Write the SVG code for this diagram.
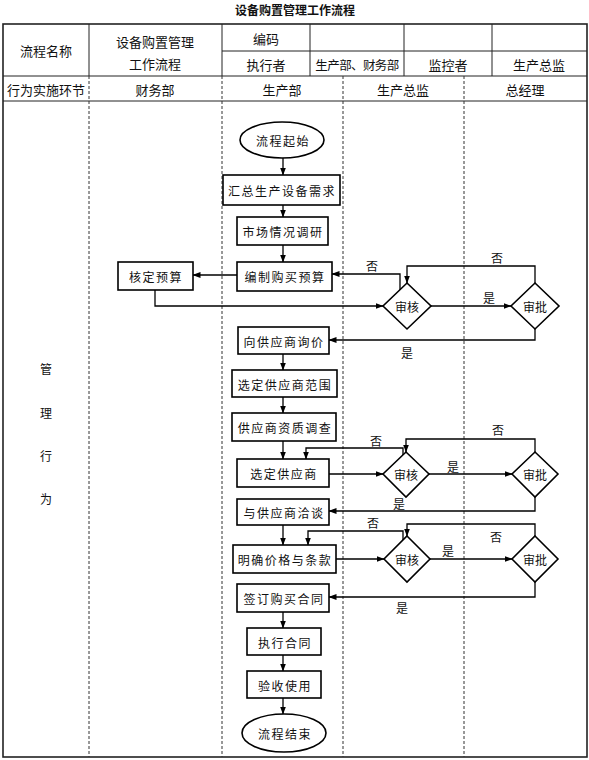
<svg xmlns="http://www.w3.org/2000/svg" width="589" height="760" viewBox="0 0 589 760">
<defs>
<marker id="ah" markerWidth="8" markerHeight="6" refX="7.5" refY="3" orient="auto" markerUnits="userSpaceOnUse">
<path d="M0,0 L8,3 L0,6 Z" fill="#000"/>
</marker>
<style>
text{font-family:"Noto Sans CJK SC","Noto Sans",sans-serif;fill:#111;text-anchor:middle;dominant-baseline:central}
.h{font-size:13px}
.n{font-size:12px;letter-spacing:1.5px}
.l{font-size:12px}
.box{fill:#fff;stroke:#000;stroke-width:1.6}
.c{fill:none;stroke:#000;stroke-width:1.3;marker-end:url(#ah)}
.solid{stroke:#222;stroke-width:1;fill:none}
.dash{stroke:#333;stroke-width:1;stroke-dasharray:3,2;fill:none}
</style>
</defs>
<rect width="589" height="760" fill="#fff"/>
<text x="295" y="9" style="font-size:12px;font-weight:bold">设备购置管理工作流程</text>
<g id="table">
<rect x="3" y="24" width="584" height="733" fill="none" stroke="#222" stroke-width="1.6"/>
<line class="solid" x1="3" y1="76" x2="587" y2="76"/>
<line class="solid" x1="3" y1="101" x2="587" y2="101"/>
<line class="solid" x1="222" y1="51" x2="587" y2="51"/>
<line class="solid" x1="89" y1="24" x2="89" y2="76"/>
<line class="solid" x1="222" y1="24" x2="222" y2="76"/>
<line class="solid" x1="310" y1="24" x2="310" y2="76"/>
<line class="solid" x1="404" y1="24" x2="404" y2="76"/>
<line class="solid" x1="492" y1="24" x2="492" y2="76"/>
<line class="dash" x1="89" y1="76" x2="89" y2="757"/>
<line class="dash" x1="222" y1="76" x2="222" y2="757"/>
<line class="dash" x1="343" y1="76" x2="343" y2="757"/>
<line class="dash" x1="464" y1="76" x2="464" y2="757"/>
<text class="h" x="46" y="50">流程名称</text>
<text class="h" x="155" y="41">设备购置管理</text>
<text class="h" x="155" y="63">工作流程</text>
<text class="h" x="266" y="38">编码</text>
<text class="h" x="266" y="64">执行者</text>
<text x="357" y="64" style="font-size:12.5px;letter-spacing:-0.6px">生产部、财务部</text>
<text class="h" x="448" y="64">监控者</text>
<text class="h" x="539" y="64">生产总监</text>
<text class="h" x="46" y="89">行为实施环节</text>
<text class="h" x="155" y="89">财务部</text>
<text class="h" x="282" y="89">生产部</text>
<text class="h" x="403" y="89">生产总监</text>
<text class="h" x="525" y="89">总经理</text>
<text class="l" x="46" y="368">管</text>
<text class="l" x="46" y="412">理</text>
<text class="l" x="46" y="455">行</text>
<text class="l" x="46" y="498">为</text>
</g>
<g id="connectors">
<path class="c" d="M283,158 V175"/>
<path class="c" d="M283,205 V217"/>
<path class="c" d="M283,245 V262"/>
<path class="c" d="M237,275 H193"/>
<path class="c" d="M155,290 V306 H383"/>
<path class="c" d="M431,306 H511"/>
<path class="c" d="M400,290 V274 H332"/>
<path class="c" d="M535,283 V266 H407 V283"/>
<path class="c" d="M535,329 V340 H329"/>
<path class="c" d="M283,354 V370"/>
<path class="c" d="M283,397 V413"/>
<path class="c" d="M283,441 V459"/>
<path class="c" d="M329,474 H383"/>
<path class="c" d="M429,474 H512"/>
<path class="c" d="M403,455 V448 H306 V459"/>
<path class="c" d="M535,452 V439 H406 V452"/>
<path class="c" d="M535,497 V511 H329"/>
<path class="c" d="M283,525 V545"/>
<path class="c" d="M336,559 H384"/>
<path class="c" d="M430,559 H512"/>
<path class="c" d="M403,540 V531 H308 V545"/>
<path class="c" d="M535,536 V524 H407 V536"/>
<path class="c" d="M535,582 V597 H329"/>
<path class="c" d="M283,612 V628"/>
<path class="c" d="M283,655 V671"/>
<path class="c" d="M283,698 V714"/>
<text class="l" x="372" y="265">否</text>
<text class="l" x="497" y="257">否</text>
<text class="l" x="489" y="297">是</text>
<text class="l" x="407" y="352">是</text>
<text class="l" x="376" y="440">否</text>
<text class="l" x="498" y="429">否</text>
<text class="l" x="453" y="466">是</text>
<text class="l" x="399" y="503">是</text>
<text class="l" x="373" y="522">否</text>
<text class="l" x="496" y="536">否</text>
<text class="l" x="448" y="550">是</text>
<text class="l" x="402" y="607">是</text>
</g>
<g id="start"><ellipse class="box" cx="282" cy="140" rx="42" ry="18"/><text class="n" x="283" y="140">流程起始</text></g>
<g id="n1"><rect class="box" x="223" y="175" width="117" height="30"/><text class="n" x="282" y="190">汇总生产设备需求</text></g>
<g id="n2"><rect class="box" x="237" y="217" width="91" height="28"/><text class="n" x="283" y="231">市场情况调研</text></g>
<g id="n3"><rect class="box" x="237" y="262" width="95" height="29"/><text class="n" x="285" y="276">编制购买预算</text></g>
<g id="n4"><rect class="box" x="118" y="262" width="75" height="28"/><text class="n" x="156" y="276">核定预算</text></g>
<g id="d1"><polygon class="box" points="407,283 431,306 407,329 383,306"/><text class="l" x="407" y="306">审核</text></g>
<g id="a1"><polygon class="box" points="535,283 559,306 535,329 511,306"/><text class="l" x="535" y="306">审批</text></g>
<g id="n5"><rect class="box" x="238" y="327" width="91" height="27"/><text class="n" x="284" y="341">向供应商询价</text></g>
<g id="n6"><rect class="box" x="232" y="370" width="105" height="27"/><text class="n" x="285" y="384">选定供应商范围</text></g>
<g id="n7"><rect class="box" x="232" y="413" width="104" height="28"/><text class="n" x="285" y="427">供应商资质调查</text></g>
<g id="n8"><rect class="box" x="237" y="459" width="92" height="28"/><text class="n" x="284" y="473">选定供应商</text></g>
<g id="d2"><polygon class="box" points="406,452 429,474 406,497 383,474"/><text class="l" x="406" y="474">审核</text></g>
<g id="a2"><polygon class="box" points="535,452 558,474 535,497 512,474"/><text class="l" x="535" y="474">审批</text></g>
<g id="n9"><rect class="box" x="237" y="499" width="92" height="26"/><text class="n" x="284" y="512">与供应商洽谈</text></g>
<g id="n10"><rect class="box" x="233" y="545" width="103" height="28"/><text class="n" x="285" y="559">明确价格与条款</text></g>
<g id="d3"><polygon class="box" points="407,536 430,559 407,582 384,559"/><text class="l" x="407" y="559">审核</text></g>
<g id="a3"><polygon class="box" points="535,536 558,559 535,582 512,559"/><text class="l" x="535" y="559">审批</text></g>
<g id="n11"><rect class="box" x="237" y="584" width="92" height="28"/><text class="n" x="284" y="598">签订购买合同</text></g>
<g id="n12"><rect class="box" x="247" y="628" width="74" height="27"/><text class="n" x="285" y="642">执行合同</text></g>
<g id="n13"><rect class="box" x="247" y="671" width="74" height="27"/><text class="n" x="285" y="685">验收使用</text></g>
<g id="end"><ellipse class="box" cx="284" cy="733" rx="42" ry="19"/><text class="n" x="285" y="733">流程结束</text></g>
</svg>
